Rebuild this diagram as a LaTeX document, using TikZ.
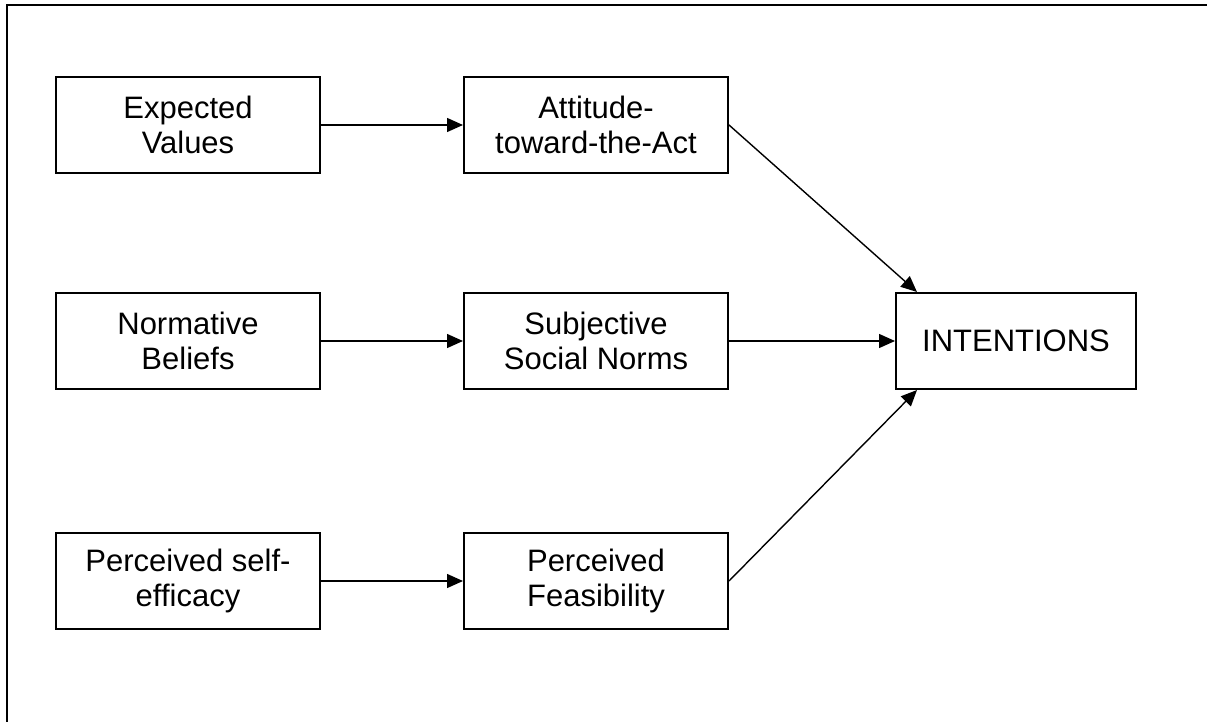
\documentclass[tikz,border=0pt]{standalone}
\usepackage{fontspec}
\setmainfont{Liberation Sans}
\usetikzlibrary{arrows.meta}
\begin{document}
\begin{tikzpicture}[x=1pt,y=-1pt,
  box/.style={draw,line width=2pt,minimum width=264pt,minimum height=96pt,inner sep=0pt,align=center,font=\fontsize{31}{35}\selectfont},
  conn/.style={line width=1.4pt,-{Triangle[length=16pt,width=14pt]}}]
\useasboundingbox (0,0) rectangle (1207,722);
\draw[line width=2.2pt] (7,722) -- (7,5) -- (1207,5);
\node[box] (ev) at (188,125) {Expected\\Values};
\node[box] (at) at (596,125) {Attitude-\\toward-the-Act};
\node[box] (nb) at (188,341) {Normative\\Beliefs};
\node[box] (sn) at (596,341) {Subjective\\Social Norms};
\node[box] (ps) at (188,581) {Perceived self-\\efficacy};
\node[box] (pf) at (596,581) {Perceived\\Feasibility};
\node[box,minimum width=240pt] (in) at (1016,341) {INTENTIONS};
\draw[conn] (ev.east) -- (at.west);
\draw[conn] (nb.east) -- (sn.west);
\draw[conn] (ps.east) -- (pf.west);
\draw[conn] (sn.east) -- (in.west);
\draw[conn] (at.east) -- ([xshift=22pt]in.north west);
\draw[conn] (pf.east) -- ([xshift=22pt]in.south west);
\end{tikzpicture}
\end{document}
